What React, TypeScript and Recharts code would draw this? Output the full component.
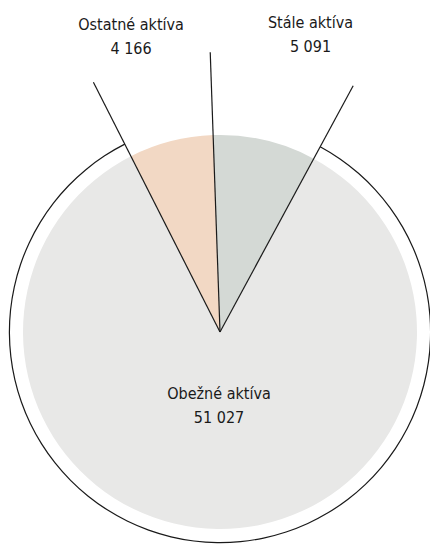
import React from 'react';
import { PieChart, Pie, Cell } from 'recharts';

const categories = ['Stále aktíva', 'Obežné aktíva', 'Ostatné aktíva'];
const values = [5091, 51027, 4166];
const colors = ['#d4d9d5', '#e8e8e7', '#f2d8c4'];
const outlineColors = ['none', '#1a1a1a', 'none'];

const RADIAN = Math.PI / 180;
const FONT = "'DejaVu Sans Condensed', 'Liberation Sans Narrow', sans-serif";

const formatValue = (v: number) => String(v).replace(/\B(?=(\d{3})+(?!\d))/g, ' ');

const data = categories.map((name, i) => ({ name, value: values[i] }));

const renderLabel = (props: any) => {
  const { cx, cy, startAngle, midAngle, percent, name, value } = props;
  // divider line running out from the centre along the slice start
  const lineR = 280;
  const lx = cx + lineR * Math.cos(-startAngle * RADIAN);
  const ly = cy + lineR * Math.sin(-startAngle * RADIAN);

  let tx: number;
  let ty: number;
  if (percent > 0.5) {
    const r = 73;
    tx = cx + r * Math.cos(-midAngle * RADIAN);
    ty = cy + r * Math.sin(-midAngle * RADIAN);
  } else {
    const r = 310;
    const m = ((midAngle % 360) + 360) % 360;
    const a = m + (m > 90 ? 3 : -3);
    tx = cx + 4 + r * Math.cos(-a * RADIAN);
    ty = cy + r * Math.sin(-a * RADIAN);
  }

  return (
    <g>
      <line x1={cx} y1={cy} x2={lx} y2={ly} stroke="#1a1a1a" strokeWidth={1.2} />
      <text x={tx} y={ty} textAnchor="middle" fill="#1a1a1a" fontFamily={FONT} fontSize={16}>
        <tspan x={tx} dy={-6}>{name}</tspan>
        <tspan x={tx} dy={24}>{formatValue(value)}</tspan>
      </text>
    </g>
  );
};

export default function App() {
  return (
    <div style={{ position: 'absolute', left: 0, top: 0 }}>
      <PieChart width={430} height={544} margin={{ top: 0, right: 0, bottom: 0, left: 0 }}>
        <Pie
          data={data}
          dataKey="value"
          nameKey="name"
          cx={220}
          cy={332}
          innerRadius={210}
          outerRadius={211.2}
          startAngle={92}
          endAngle={-268}
          stroke="none"
          isAnimationActive={false}
        >
          {data.map((_, i) => (
            <Cell key={`o-${i}`} fill={outlineColors[i]} />
          ))}
        </Pie>
        <Pie
          data={data}
          dataKey="value"
          nameKey="name"
          cx={220}
          cy={332}
          outerRadius={197}
          startAngle={92}
          endAngle={-268}
          stroke="none"
          label={renderLabel}
          labelLine={false}
          isAnimationActive={false}
        >
          {data.map((_, i) => (
            <Cell key={`c-${i}`} fill={colors[i]} />
          ))}
        </Pie>
      </PieChart>
    </div>
  );
}
